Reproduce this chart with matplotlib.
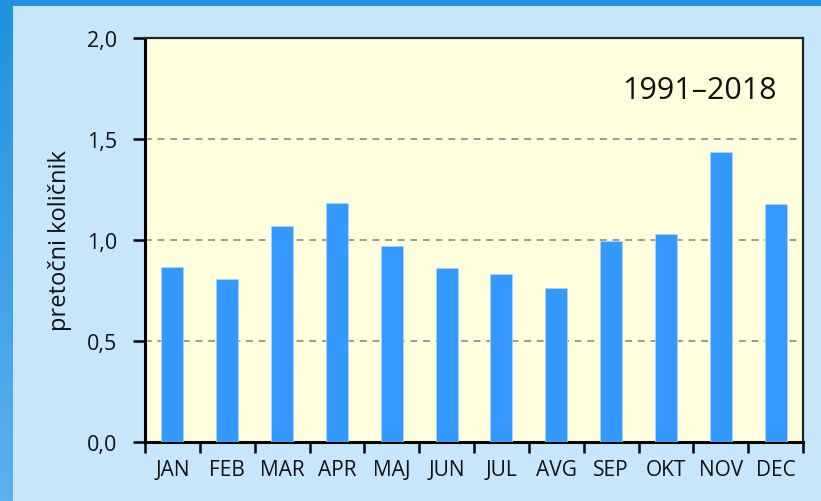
import matplotlib.pyplot as plt
import numpy as np
from matplotlib.colors import LinearSegmentedColormap
from matplotlib.ticker import FixedLocator, FuncFormatter

months = ["JAN", "FEB", "MAR", "APR", "MAJ", "JUN", "JUL", "AVG", "SEP", "OKT", "NOV", "DEC"]
ratio = [0.866, 0.807, 1.069, 1.183, 0.970, 0.861, 0.832, 0.762, 0.995, 1.030, 1.436, 1.178]
period = "1991–2018"

plt.rcParams["font.family"] = ["Open Sans", "DejaVu Sans"]

fig = plt.figure(figsize=(8.21, 5.02), dpi=100, facecolor="#c8e6fa")

# frame: top band and left gradient strip
top = fig.add_axes([0, 1 - 7 / 502, 1, 7 / 502])
top.axis("off")
top.add_patch(plt.Rectangle((0, 0), 1, 1, color="#1f92e0", transform=top.transAxes))
left = fig.add_axes([0, 0, 13 / 821, 1])
grad = np.linspace(0, 1, 100).reshape(-1, 1)
cmap = LinearSegmentedColormap.from_list("edge", ["#5cb0ec", "#1f92e0"])
left.imshow(grad, aspect="auto", cmap=cmap, origin="lower", extent=(0, 1, 0, 1))
left.axis("off")

ax = fig.add_axes([145 / 821, 59 / 502, 658 / 821, 404 / 502])
ax.set_facecolor("#ffffdd")

x = np.arange(len(months))
ax.bar(x, ratio, width=0.4, color="#3399ff", edgecolor="#a8d4f8", linewidth=0.6, zorder=3)

ax.set_xlim(-0.5, len(months) - 0.5)
ax.set_ylim(0, 2.0)

ax.set_yticks([0, 0.5, 1.0, 1.5, 2.0])
ax.yaxis.set_major_formatter(FuncFormatter(lambda v, p: f"{v:.1f}".replace(".", ",")))
for yv in [0.5, 1.0, 1.5]:
    ax.axhline(yv, color="#999999", linestyle=(0, (3.5, 3)), linewidth=1.4, zorder=1)

ax.xaxis.set_major_locator(FixedLocator(np.arange(-0.5, len(months), 1.0)))
ax.xaxis.set_minor_locator(FixedLocator(x))
ax.set_xticklabels([])
ax.set_xticklabels(months, minor=True)
ax.tick_params(axis="x", which="major", direction="out", length=8, width=1.8, color="black")
ax.tick_params(axis="x", which="minor", length=0, pad=12, labelsize=15, labelcolor="#111111")
ax.tick_params(axis="y", direction="out", length=9, width=1.8, pad=11, labelsize=15.5, labelcolor="#111111")

ax.set_ylabel("pretočni količnik", fontsize=17, color="#111111", labelpad=11)

for side in ["left", "bottom"]:
    ax.spines[side].set_linewidth(2.2)
    ax.spines[side].set_color("black")
for side in ["top", "right"]:
    ax.spines[side].set_linewidth(1.6)
    ax.spines[side].set_color("#222222")

ax.text(0.96, 0.872, period, transform=ax.transAxes, ha="right", va="center",
        fontsize=22, color="#111111")

fig.savefig("out.png", dpi=100, facecolor=fig.get_facecolor())
